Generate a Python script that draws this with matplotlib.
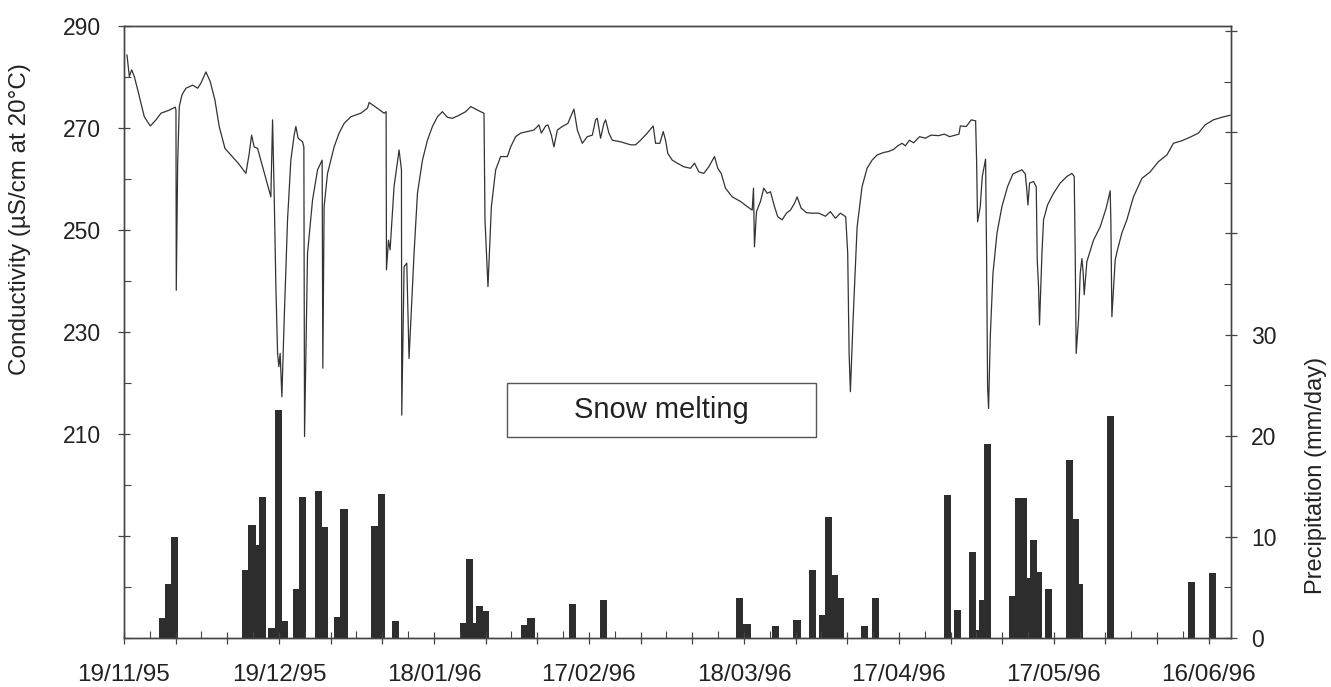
import matplotlib.pyplot as plt
import matplotlib.patches as mpatches
from matplotlib.ticker import FixedLocator, MultipleLocator
import numpy as np

plt.rcParams['font.family'] = ['Liberation Sans', 'DejaVu Sans']

# conductivity record, days counted from 19/11/95
cond_day = [0.58, 1.03, 1.49, 1.99, 2.65, 3.93, 5.09, 6.19, 7.16, 8.76, 9.92, 10.06, 10.12, 10.39, 10.70,
            11.22, 11.99, 13.29, 14.26, 14.89, 15.86, 16.69, 17.60, 18.43, 19.54, 20.70, 22.11, 23.60,
            24.24, 24.70, 25.20, 25.86, 26.83, 27.80, 28.43, 28.76, 29.07, 29.40, 29.73, 29.98, 30.23,
            30.56, 31.01, 31.66, 32.30, 32.94, 33.27, 33.71, 34.56, 34.82, 34.95, 35.53, 36.50, 37.47,
            38.36, 38.49, 38.74, 39.40, 40.68, 41.64, 42.61, 43.91, 45.84, 47.14, 47.45, 48.74, 50.35,
            50.74, 50.81, 51.20, 51.51, 52.28, 53.25, 53.71, 53.77, 54.22, 54.74, 55.18, 56.15, 56.81,
            57.78, 58.74, 59.71, 60.68, 61.64, 62.61, 63.58, 64.86, 66.15, 67.12, 68.09, 69.05, 69.69,
            69.88, 70.46, 71.12, 71.95, 72.92, 74.22, 74.85, 75.82, 76.79, 78.09, 79.36, 80.33, 80.79,
            81.62, 82.07, 82.73, 83.23, 83.89, 84.85, 85.94, 86.46, 87.10, 87.76, 88.72, 89.69, 90.66,
            91.30, 91.62, 92.26, 92.90, 93.23, 93.87, 94.53, 96.13, 98.07, 99.03, 100.00, 101.30, 102.45,
            102.90, 103.73, 104.39, 104.84, 105.28, 106.13, 107.10, 108.38, 109.67, 110.45, 111.28, 112.24,
            113.21, 114.31, 114.95, 115.61, 116.44, 117.74, 119.34, 120.64, 121.61, 121.86, 122.05, 122.44,
            123.21, 123.85, 124.51, 125.15, 125.92, 126.56, 127.41, 128.24, 129.01, 129.79, 130.31, 131.08,
            132.11, 133.21, 134.49, 135.78, 136.75, 137.72, 138.68, 139.71, 140.10, 140.37, 140.62, 141.14,
            141.92, 142.88, 143.85, 144.82, 145.78, 147.06, 148.03, 149.00, 149.77, 150.62, 151.26, 152.03,
            152.86, 154.02, 155.13, 156.23, 157.70, 158.80, 159.83, 160.93, 161.64, 161.90, 163.06, 164.02,
            164.86, 165.05, 165.24, 165.76, 166.15, 166.79, 166.98, 167.18, 167.37, 167.70, 168.22, 169.00,
            169.96, 171.04, 172.09, 172.98, 173.83, 174.47, 174.72, 174.99, 175.30, 176.07, 176.60, 176.79,
            177.04, 177.23, 177.70, 178.01, 178.78, 179.94, 181.24, 182.53, 183.50, 183.95, 184.14, 184.33,
            184.78, 185.11, 185.44, 185.69, 185.88, 186.40, 187.68, 188.97, 190.14, 190.91, 191.04, 191.24,
            191.88, 192.32, 193.17, 194.14, 195.42, 197.04, 198.65, 200.25, 201.88, 203.15, 204.78, 206.38,
            207.99, 209.28, 210.89, 212.52, 214.12]
cond_val = [284.3, 280.1, 281.4, 280.1, 277.5, 272.2, 270.4, 271.6, 272.9, 273.5, 274.1, 273.5, 238.2, 263.1, 274.2,
            276.5, 277.8, 278.4, 277.8, 278.8, 281.0, 279.1, 275.5, 270.3, 266.0, 264.7, 263.1, 261.1,
            265.0, 268.6, 266.3, 266.0, 262.4, 258.8, 256.5, 271.6, 257.2, 238.9, 225.8, 223.2, 225.8,
            217.3, 232.4, 252.0, 263.7, 268.6, 270.3, 268.0, 267.3, 266.3, 209.5, 245.4, 255.9, 261.8,
            263.7, 222.9, 254.6, 261.1, 266.3, 269.0, 270.9, 272.2, 272.9, 273.9, 275.0, 274.1, 272.9,
            273.2, 242.2, 248.0, 246.1, 258.5, 265.7, 261.8, 213.7, 242.8, 243.5, 224.8, 245.4, 257.2,
            263.7, 267.6, 270.3, 272.2, 273.2, 272.1, 271.9, 272.5, 273.2, 274.2, 273.7, 273.2, 272.9,
            252.0, 238.9, 254.6, 261.8, 264.4, 264.4, 266.3, 268.3, 269.0, 269.3, 269.6, 270.6, 269.0,
            270.4, 270.6, 268.6, 266.3, 269.6, 270.3, 270.9, 272.2, 273.7, 269.6, 267.0, 268.3, 268.6,
            271.6, 271.9, 268.0, 270.9, 271.6, 269.0, 267.6, 267.3, 266.7, 266.7, 267.6, 269.0, 270.4,
            267.0, 267.0, 269.3, 267.6, 265.0, 263.7, 263.1, 262.4, 262.1, 263.1, 261.4, 261.1,
            262.4, 264.4, 262.1, 261.1, 258.2, 256.5, 255.6, 254.6, 253.9, 258.2, 246.7, 253.6,
            255.6, 258.2, 257.2, 257.5, 254.6, 252.6, 252.0, 253.3, 253.9, 255.2, 256.5, 254.3,
            253.4, 253.3, 253.3, 252.7, 253.6, 252.3, 253.3, 252.6, 245.4, 225.8, 218.3, 232.4,
            250.6, 258.5, 262.1, 263.7, 264.7, 265.2, 265.4, 265.8, 266.5, 267.0, 266.5, 267.6,
            267.1, 268.3, 268.0, 268.6, 268.5, 268.8, 268.3, 268.6, 268.8, 270.4, 270.3, 271.6,
            271.4, 263.7, 251.6, 254.6, 260.5, 263.9, 245.4, 219.3, 215.0, 229.1, 241.5, 249.4,
            254.6, 258.5, 261.0, 261.4, 261.8, 261.0, 258.5, 254.9, 259.2, 259.5, 258.5, 244.1,
            238.9, 231.4, 245.4, 252.0, 254.9, 257.2, 259.2, 260.5, 261.1, 260.5, 245.4, 225.8,
            232.4, 241.5, 244.4, 241.5, 237.3, 243.8, 248.0, 250.6, 254.3, 257.7, 252.0, 233.0,
            244.1, 246.1, 249.4, 252.0, 256.5, 260.1, 261.4, 263.4, 264.7, 267.0, 267.5, 268.2,
            269.0, 270.6, 271.6, 272.1, 272.5]

# daily precipitation (mm/day)
rain_day = [7.5, 8.6, 9.8, 23.6, 24.8, 25.7, 26.8, 28.6, 29.9, 31.0, 33.4, 34.6, 37.7, 38.7, 41.3, 42.6,
            48.6, 49.8, 52.6, 65.7, 66.9, 67.9, 68.8, 70.0, 77.6, 78.8, 86.8, 92.8, 119.1, 120.6, 126.1,
            130.3, 133.3, 135.2, 136.4, 137.5, 138.6, 143.4, 145.5, 159.4, 161.3, 164.2, 165.3, 166.2,
            167.2, 172.1, 173.2, 174.2, 175.1, 176.1, 177.1, 179.0, 183.0, 184.1, 185.0, 190.9, 206.6, 210.7]
rain_mm = [2.0, 5.3, 10.0, 6.7, 11.2, 9.2, 13.9, 1.0, 22.5, 1.7, 4.8, 13.9, 14.5, 11.0, 2.1, 12.8,
           11.1, 14.2, 1.7, 1.5, 7.8, 1.5, 3.2, 2.7, 1.3, 2.0, 3.4, 3.8, 4.0, 1.4, 1.2,
           1.8, 6.7, 2.3, 12.0, 6.2, 4.0, 1.2, 4.0, 14.1, 2.8, 8.5, 0.8, 3.8,
           19.2, 4.2, 13.8, 13.8, 5.9, 9.7, 6.5, 4.8, 17.6, 11.8, 5.3, 21.9, 5.5, 6.4]

date_labels = ["19/11/95", "19/12/95", "18/01/96", "17/02/96", "18/03/96", "17/04/96", "17/05/96", "16/06/96"]

fig = plt.figure(figsize=(13.31, 6.87), dpi=100)
ax = fig.add_axes([124 / 1331, 49 / 687, 1107 / 1331, 612 / 687])
ax2 = ax.twinx()

ax2.bar(rain_day, rain_mm, width=1.4, color='#2d2d2d', edgecolor='none', align='center')
ax.plot(cond_day, cond_val, color='#333333', lw=0.9)

ax.set_zorder(ax2.get_zorder() + 1)
ax.patch.set_visible(False)

ax.set_xlim(0, 214.3)
ax.set_ylim(170, 290)
ax2.set_ylim(0, 60.5)

# x ticks: every 10 days, labelled every 30
xmaj = np.arange(0, 211, 10)
ax.xaxis.set_major_locator(FixedLocator(xmaj))
ax.xaxis.set_minor_locator(MultipleLocator(5))
ax.set_xticklabels([date_labels[i // 30] if i % 30 == 0 else '' for i in xmaj])

ymaj = np.arange(190, 291, 20)
ax.yaxis.set_major_locator(FixedLocator(ymaj))
ax.yaxis.set_minor_locator(MultipleLocator(10))
ax.set_yticklabels([str(v) if v >= 210 else '' for v in ymaj])

rmaj = np.arange(0, 61, 10)
ax2.yaxis.set_major_locator(FixedLocator(rmaj))
ax2.yaxis.set_minor_locator(MultipleLocator(5))
ax2.set_yticklabels([str(v) if v <= 30 else '' for v in rmaj])

for a in (ax, ax2):
    for s in a.spines.values():
        s.set_color('#444444')
        s.set_linewidth(1.0)
ax.tick_params(axis='both', which='major', direction='inout', length=9, width=0.9, color='#444444', labelsize=16.5, labelcolor='#222222')
ax.tick_params(axis='both', which='minor', direction='in', length=5, width=0.8, color='#444444')
ax.tick_params(axis='x', which='major', pad=14, labelsize=17.5)
ax.tick_params(axis='y', which='major', pad=12)
ax2.tick_params(axis='y', which='major', direction='inout', length=9, width=0.9, color='#444444', labelsize=16.5, labelcolor='#222222', pad=10)
ax2.tick_params(axis='y', which='minor', direction='in', length=5, width=0.8, color='#444444')

ax.set_ylabel('Conductivity (µS/cm at 20°C)', fontsize=17.5, color='#222222')
ax.yaxis.set_label_coords(-0.084, 0.685)
ax2.set_ylabel('Precipitation (mm/day)', fontsize=17, color='#222222')
ax2.yaxis.set_label_coords(1.067, 0.266)

# "Snow melting" box
box = mpatches.Rectangle((0.3457, 0.328), 0.2791, 0.088, transform=ax.transAxes,
                         fill=False, edgecolor='#555555', linewidth=1.0)
ax.add_patch(box)
ax.text(0.485, 0.372, 'Snow melting', transform=ax.transAxes, ha='center', va='center',
        fontsize=21, color='#222222')

fig.savefig('out.png', dpi=100)
